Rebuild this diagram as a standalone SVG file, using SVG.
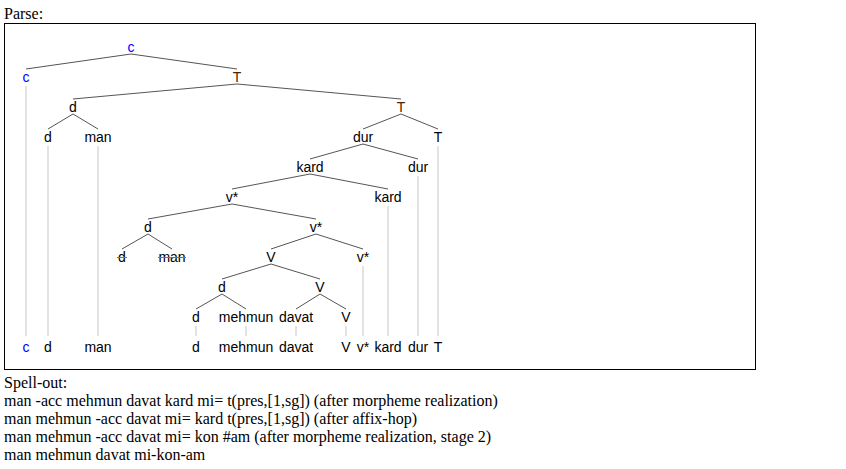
<svg xmlns="http://www.w3.org/2000/svg" width="846" height="469" viewBox="0 0 846 469">
<style>
.lbl{font-family:"Liberation Sans",Arial,sans-serif;font-size:14px;text-anchor:middle;fill:#000}
.blue{fill:#0000ff}
.brown{fill:#552200}
.serif{font-family:"Liberation Serif","Times New Roman",serif;font-size:16px;fill:#000}
.edge{stroke:#555;stroke-width:1;fill:none}
.trace{stroke:#e3e3e3;stroke-width:2;fill:none}
.strike{stroke:#777;stroke-width:1}
</style>
<rect width="846" height="469" fill="#fff"/>
<text class="serif" x="4" y="19">Parse:</text>
<rect x="4.5" y="23.5" width="751" height="346" fill="none" stroke="#000" stroke-width="1"/>
<g id="traces">
<line class="trace" x1="26" y1="86" x2="26" y2="336"/>
<line class="trace" x1="48" y1="146" x2="48" y2="336"/>
<line class="trace" x1="98" y1="146" x2="98" y2="336"/>
<line class="trace" x1="196" y1="326" x2="196" y2="336"/>
<line class="trace" x1="246" y1="326" x2="246" y2="336"/>
<line class="trace" x1="296" y1="326" x2="296" y2="336"/>
<line class="trace" x1="346" y1="326" x2="346" y2="336"/>
<line class="trace" x1="363" y1="266" x2="363" y2="336"/>
<line class="trace" x1="388" y1="206" x2="388" y2="336"/>
<line class="trace" x1="418" y1="176" x2="418" y2="336"/>
<line class="trace" x1="438" y1="146" x2="438" y2="336"/>
</g>
<g id="connectors">
<line class="edge" x1="131" y1="54" x2="26" y2="69"/>
<line class="edge" x1="131" y1="54" x2="237" y2="69"/>
<line class="edge" x1="237" y1="84" x2="73" y2="99"/>
<line class="edge" x1="237" y1="84" x2="401" y2="99"/>
<line class="edge" x1="73" y1="114" x2="48" y2="129"/>
<line class="edge" x1="73" y1="114" x2="98" y2="129"/>
<line class="edge" x1="401" y1="114" x2="363" y2="129"/>
<line class="edge" x1="401" y1="114" x2="438" y2="129"/>
<line class="edge" x1="363" y1="144" x2="310" y2="159"/>
<line class="edge" x1="363" y1="144" x2="418" y2="159"/>
<line class="edge" x1="310" y1="174" x2="232" y2="189"/>
<line class="edge" x1="310" y1="174" x2="388" y2="189"/>
<line class="edge" x1="232" y1="204" x2="148" y2="219"/>
<line class="edge" x1="232" y1="204" x2="316" y2="219"/>
<line class="edge" x1="148" y1="234" x2="122" y2="249"/>
<line class="edge" x1="148" y1="234" x2="172" y2="249"/>
<line class="edge" x1="316" y1="234" x2="271" y2="249"/>
<line class="edge" x1="316" y1="234" x2="363" y2="249"/>
<line class="edge" x1="271" y1="264" x2="222" y2="279"/>
<line class="edge" x1="271" y1="264" x2="320" y2="279"/>
<line class="edge" x1="222" y1="294" x2="196" y2="309"/>
<line class="edge" x1="222" y1="294" x2="246" y2="309"/>
<line class="edge" x1="320" y1="294" x2="296" y2="309"/>
<line class="edge" x1="320" y1="294" x2="346" y2="309"/>
</g>
<g id="n-c0"><text class="lbl blue" x="131" y="52">c</text></g>
<g id="n-c1"><text class="lbl blue" x="26" y="82">c</text></g>
<g id="n-T1"><text class="lbl brown" x="237" y="82">T</text></g>
<g id="n-d2"><text class="lbl" x="73" y="112">d</text></g>
<g id="n-T2"><text class="lbl brown" x="401" y="112">T</text></g>
<g id="n-d3"><text class="lbl" x="48" y="142">d</text></g>
<g id="n-man3"><text class="lbl" x="98" y="142">man</text></g>
<g id="n-dur3"><text class="lbl" x="363" y="142">dur</text></g>
<g id="n-T3"><text class="lbl" x="438" y="142">T</text></g>
<g id="n-kard4"><text class="lbl" x="310" y="172">kard</text></g>
<g id="n-dur4"><text class="lbl" x="418" y="172">dur</text></g>
<g id="n-v5"><text class="lbl" x="232" y="202">v*</text></g>
<g id="n-kard5"><text class="lbl" x="388" y="202">kard</text></g>
<g id="n-d6"><text class="lbl" x="148" y="232">d</text></g>
<g id="n-v6"><text class="lbl" x="316" y="232">v*</text></g>
<g id="n-d7"><text class="lbl" x="122" y="262">d</text><line class="strike" x1="117" y1="257.5" x2="127" y2="257.5"/></g>
<g id="n-man7"><text class="lbl" x="172" y="262">man</text><line class="strike" x1="158" y1="257.5" x2="186" y2="257.5"/></g>
<g id="n-V7"><text class="lbl" x="271" y="262">V</text></g>
<g id="n-v7"><text class="lbl" x="363" y="262">v*</text></g>
<g id="n-d8"><text class="lbl" x="222" y="292">d</text></g>
<g id="n-V8"><text class="lbl" x="320" y="292">V</text></g>
<g id="n-d9"><text class="lbl" x="196" y="322">d</text></g>
<g id="n-mehmun9"><text class="lbl" x="246" y="322">mehmun</text></g>
<g id="n-davat9"><text class="lbl" x="296" y="322">davat</text></g>
<g id="n-V9"><text class="lbl" x="346" y="322">V</text></g>
<g id="bottom-row">
<text class="lbl blue" x="26" y="352">c</text>
<text class="lbl" x="48" y="352">d</text>
<text class="lbl" x="98" y="352">man</text>
<text class="lbl" x="196" y="352">d</text>
<text class="lbl" x="246" y="352">mehmun</text>
<text class="lbl" x="296" y="352">davat</text>
<text class="lbl" x="346" y="352">V</text>
<text class="lbl" x="363" y="352">v*</text>
<text class="lbl" x="388" y="352">kard</text>
<text class="lbl" x="418" y="352">dur</text>
<text class="lbl" x="438" y="352">T</text>
</g>
<g id="spellout">
<text class="serif" x="4" y="387.5">Spell-out:</text>
<text class="serif" x="4" y="405.5">man -acc mehmun davat kard mi= t(pres,[1,sg]) (after morpheme realization)</text>
<text class="serif" x="4" y="423.5">man mehmun -acc davat mi= kard t(pres,[1,sg]) (after affix-hop)</text>
<text class="serif" x="4" y="441.5">man mehmun -acc davat mi= kon #am (after morpheme realization, stage 2)</text>
<text class="serif" x="4" y="459.5">man mehmun davat mi-kon-am</text>
</g>
</svg>
